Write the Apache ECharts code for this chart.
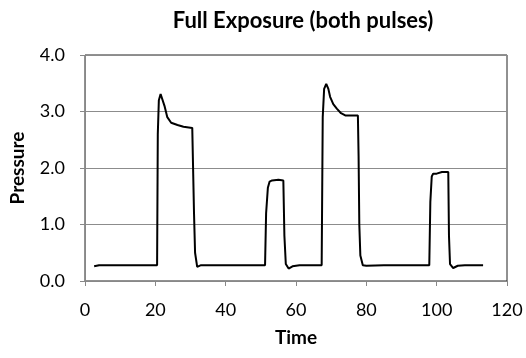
<!DOCTYPE html>
<html><head><meta charset="utf-8">
<script src="https://cdn.jsdelivr.net/npm/echarts@6/dist/echarts.min.js"></script>
<style>html,body{margin:0;padding:0;background:#fff}#c{width:526px;height:358px}</style>
</head><body><div id="c"></div>
<script>
var title = "Full Exposure (both pulses)";
var xName = "Time";
var yName = "Pressure";
var time = [2.6, 4, 8, 12, 16, 20.5, 20.7, 21.0, 21.5, 22.0, 22.6, 23.4, 24.5, 26.3, 28, 30.5, 30.8, 31.0, 31.3, 31.9, 33, 36, 42, 48, 51.2, 51.5, 52.0, 52.5, 53.2, 55, 56.4, 56.7, 57.1, 57.9, 59, 61, 64, 67.3, 67.6, 68.0, 68.6, 69.2, 69.7, 70.6, 71.6, 72.8, 74, 76, 77.6, 77.8, 78.0, 78.3, 79, 80, 85, 90, 95, 97.9, 98.2, 98.6, 99.0, 100, 101.5, 103.3, 103.5, 103.8, 104.7, 106, 108, 113.2];
var pressure = [0.26, 0.28, 0.28, 0.28, 0.28, 0.28, 2.6, 3.2, 3.31, 3.30, 3.10, 2.90, 2.80, 2.76, 2.73, 2.71, 2.7, 1.2, 0.5, 0.25, 0.28, 0.28, 0.28, 0.28, 0.28, 1.2, 1.65, 1.76, 1.78, 1.79, 1.78, 0.8, 0.3, 0.22, 0.26, 0.28, 0.28, 0.28, 2.9, 3.4, 3.49, 3.40, 3.26, 3.13, 3.05, 2.97, 2.93, 2.93, 2.93, 2.2, 1.0, 0.45, 0.28, 0.27, 0.28, 0.28, 0.28, 0.28, 1.4, 1.85, 1.90, 1.90, 1.93, 1.93, 0.8, 0.3, 0.23, 0.27, 0.28, 0.28];
var xTicks = {min: 0, max: 120, interval: 20};
var yTicks = {min: 0, max: 4, interval: 1};
var data = time.map(function (t, i) { return [t, pressure[i]]; });
var font = "Lato, 'Open Sans', sans-serif";
var chart = echarts.init(document.getElementById('c'), null, {renderer: 'canvas'});
chart.setOption({
  animation: false,
  backgroundColor: '#fff',
  title: {text: title, left: 298, top: 5, textAlign: 'center',
    textStyle: {fontFamily: font, fontWeight: 'bold', fontSize: 22, color: '#000'}},
  grid: {left: 84, right: 19, top: 55, bottom: 77, show: true, borderColor: '#222', borderWidth: 1},
  xAxis: {type: 'value', min: xTicks.min, max: xTicks.max, interval: xTicks.interval,
    name: xName, nameLocation: 'middle', nameGap: 47,
    nameTextStyle: {fontFamily: font, fontWeight: 'bold', fontSize: 19, color: '#000'},
    axisLine: {show: true, lineStyle: {color: '#888'}},
    axisTick: {show: true, length: 5, lineStyle: {color: '#888'}},
    axisLabel: {fontFamily: font, fontSize: 18, color: '#000', margin: 20,
      formatter: function (v) { return String(v); }},
    splitLine: {show: false}},
  yAxis: {type: 'value', min: yTicks.min, max: yTicks.max, interval: yTicks.interval,
    name: yName, nameLocation: 'middle', nameGap: 58, nameRotate: 90,
    nameTextStyle: {fontFamily: font, fontWeight: 'bold', fontSize: 19, color: '#000'},
    axisLine: {show: true, lineStyle: {color: '#888'}},
    axisTick: {show: true, length: 5, lineStyle: {color: '#888'}},
    axisLabel: {fontFamily: font, fontSize: 18, color: '#000', margin: 20,
      formatter: function (v) { return v.toFixed(1); }},
    splitLine: {show: true, lineStyle: {color: '#8c8c8c', width: 1}}},
  series: [{type: 'line', data: data, showSymbol: false, symbol: 'none',
    lineStyle: {color: '#000', width: 2}}]
});
</script></body></html>
